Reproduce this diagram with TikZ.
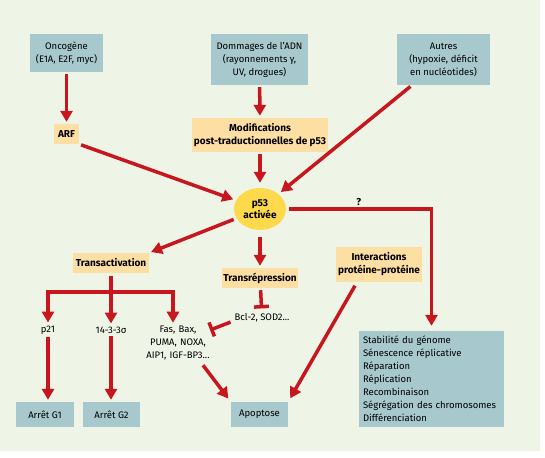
\documentclass[tikz,border=0pt]{standalone}
\usepackage{fontspec}
\setmainfont{Fira Sans}
\usepackage{tikz}
\usetikzlibrary{calc,arrows.meta,shapes.geometric}
\definecolor{fond}{HTML}{EEF5E7}
\definecolor{bleu}{HTML}{A7C8CC}
\definecolor{saumon}{HTML}{FDDFA4}
\definecolor{jaune}{HTML}{FDD94B}
\definecolor{rouge}{HTML}{C8161E}
\tikzset{
	boite/.style={fill=bleu, inner sep=0pt, align=center, font=\fontsize{9.5}{13}\selectfont},
	etape/.style={fill=saumon, inner sep=0pt, align=center, font=\fontsize{10}{13}\selectfont\bfseries},
	texte/.style={inner sep=1pt, align=center, font=\fontsize{9.5}{13}\selectfont},
	trait/.style={draw=rouge, line width=3.5pt},
	fleche/.style={trait, -{Triangle[length=11pt,width=12pt]}, shorten >=2pt, shorten <=2pt},
	frein/.style={trait, -{Bar[width=15pt]}, shorten >=2pt, shorten <=2pt}
}

\begin{document}
\begin{tikzpicture}[x=1pt, y=-1pt]
		%%%%% START %%%%%
		
		\useasboundingbox (0, 0) rectangle (545, 457);
		\fill[white] (0, 0) rectangle (545, 457);
		\fill[fond] (0, 0) rectangle (540, 451);
		
		\node[boite, minimum width=73pt, minimum height=38pt] (onco) at (66.5, 53) {Oncogène\\(E1A, E2F, myc)};
		\node[boite, minimum width=97pt, minimum height=51pt] (adn) at (259.5, 59.5) {Dommages de l’ADN\\(rayonnements γ,\\UV, drogues)};
		\node[boite, minimum width=93pt, minimum height=51pt] (autres) at (443.5, 59.5) {Autres\\(hypoxie, déficit\\en nucléotides)};
		
		\node[etape, minimum width=25pt, minimum height=20pt] (arf) at (66.5, 134) {ARF};
		\node[etape, minimum width=136pt, minimum height=34pt] (modif) at (260, 135) {Modifications\\post-traductionnelles de p53};
		
		\node[ellipse, fill=jaune, inner sep=0pt, minimum width=52pt, minimum height=42pt, align=center, font=\fontsize{10}{12}\selectfont\bfseries] (p53) at (260, 209) {p53\\activée};
		
		\node[etape, minimum width=76pt, minimum height=20pt] (transact) at (111, 263) {Transactivation};
		\node[etape, minimum width=76pt, minimum height=20pt] (transrep) at (260, 278) {Transrépression};
		\node[etape, minimum width=86pt, minimum height=35pt] (interact) at (379, 264.5) {Interactions\\protéine-protéine};
		
		\node[texte] (bcl) at (262, 318) {Bcl-2, SOD2...};
		\node[texte] (p21) at (48, 330) {p21};
		\node[texte] (sigma) at (111, 330) {14-3-3σ};
		\node[texte, text width=76pt] (fas) at (178, 343) {Fas, Bax,\\PUMA, NOXA,\\AIP1, IGF-BP3...};
		
		\node[boite, minimum width=58pt, minimum height=25pt] (g1) at (45, 414.5) {Arrêt G1};
		\node[boite, minimum width=57pt, minimum height=25pt] (g2) at (111.5, 414.5) {Arrêt G2};
		\node[boite, minimum width=57pt, minimum height=25pt] (apop) at (259.5, 414.5) {Apoptose};
		\node[boite, align=left, inner xsep=4pt, text width=137pt, minimum height=96pt] (liste) at (431.5, 379) {Stabilité du génome\\Sénescence réplicative\\Réparation\\Réplication\\Recombinaison\\Ségrégation des chromosomes\\Différenciation};
		
		\draw[fleche] (onco) -- (arf);
		\draw[fleche] (adn) -- (modif);
		\draw[fleche, shorten >=5pt] (modif) -- (p53);
		\draw[fleche, shorten >=3pt] (arf.south east) -- (p53);
		\draw[fleche, shorten >=3pt] (autres) -- (p53);
		
		\draw[fleche, shorten <=3pt, shorten >=5pt] (p53.east) -| node[pos=0.25, above=2pt, inner sep=0pt, font=\fontsize{10}{11}\selectfont\bfseries] (question) {?} (liste.north);
		\draw[fleche, shorten <=3pt] (p53) -- (transact.north east);
		\draw[fleche, shorten <=7pt] (p53) -- (transrep);
		\draw[frein, shorten >=4pt] (transrep) -- (bcl);
		\draw[frein, shorten <=3pt] ([yshift=-3pt]bcl.west) -- ([xshift=-9pt, yshift=-6pt]fas.north east);
		
		\coordinate (branche) at (111, 292);
		\draw[trait, shorten <=3pt] (transact.south) -- (branche);
		\draw[fleche, shorten <=0pt] (branche) -| (p21);
		\draw[fleche, shorten <=0pt] (branche) -- (sigma);
		\draw[fleche, shorten <=0pt] (branche) -| ([xshift=-5pt]fas.north);
		
		\draw[fleche] (p21) -- (p21 |- g1.north);
		\draw[fleche] (sigma) -- (sigma |- g2.north);
		\draw[fleche, shorten <=5pt, shorten >=4pt] ([xshift=22pt]fas.south) -- (apop.north west);
		\draw[fleche, shorten <=4pt, shorten >=4pt] ([xshift=-22pt]interact.south) -- (apop.north east);
		
		%%%%% END %%%%%
	\end{tikzpicture}
\end{document}
